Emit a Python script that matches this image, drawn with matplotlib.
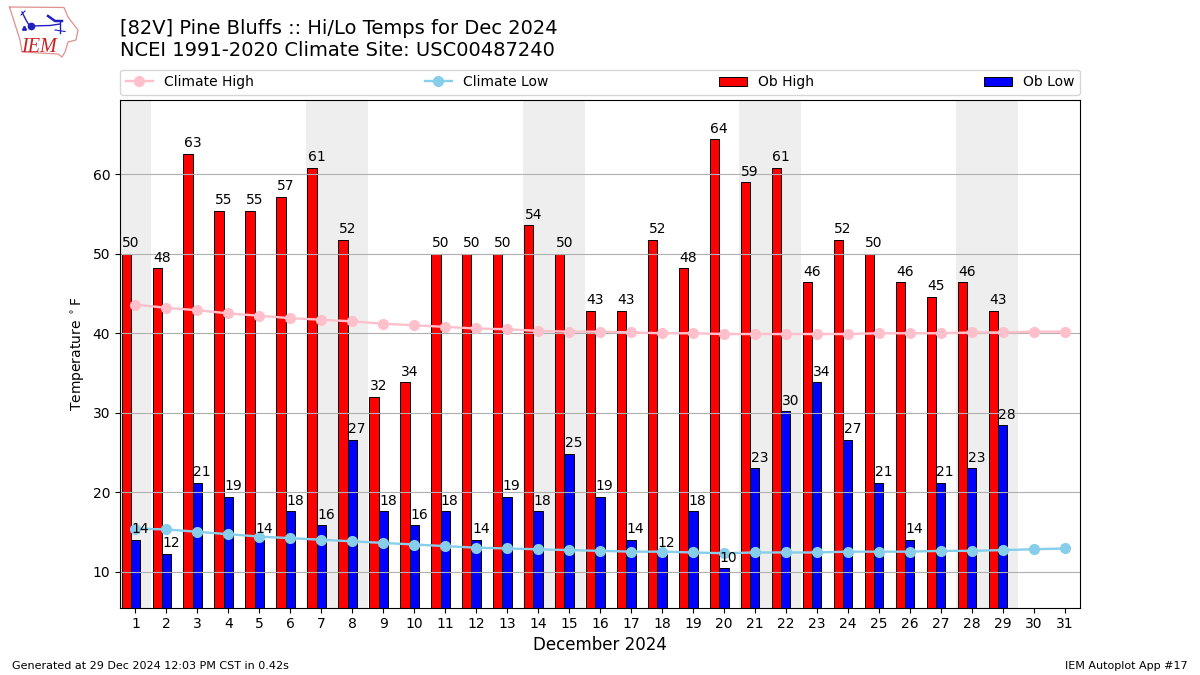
import matplotlib
matplotlib.use('Agg')
import matplotlib.pyplot as plt
import numpy as np

# Observed values, day of month
days = list(range(1, 32))
ob_days = list(range(1, 30))
ob_high = [50, 48.2, 62.6, 55.4, 55.4, 57.2, 60.8, 51.8, 32, 33.8, 50, 50, 50, 53.6, 50,
           42.8, 42.8, 51.8, 48.2, 64.4, 59, 60.8, 46.4, 51.8, 50, 46.4, 44.6, 46.4, 42.8]
ob_low = [14, 12.2, 21.2, 19.4, 14, 17.6, 15.8, 26.6, 17.6, 15.8, 17.6, 14, 19.4, 17.6, 24.8,
          19.4, 14, 12.2, 17.6, 10.4, 23, 30.2, 33.8, 26.6, 21.2, 14, 21.2, 23, 28.4]

# Climatology
climo_high = [43.6, 43.2, 42.9, 42.5, 42.2, 41.9, 41.7, 41.5, 41.2, 41.0, 40.8, 40.6, 40.5, 40.3, 40.2, 40.2,
              40.1, 40.0, 40.0, 39.9, 39.9, 39.9, 39.9, 39.9, 40.0, 40.0, 40.0, 40.1, 40.1, 40.2, 40.2]
climo_low = [15.4, 15.3, 15.0, 14.7, 14.4, 14.2, 14.0, 13.8, 13.6, 13.4, 13.2, 13.0, 12.9, 12.8, 12.7, 12.6,
             12.5, 12.5, 12.4, 12.3, 12.4, 12.4, 12.4, 12.5, 12.5, 12.5, 12.6, 12.6, 12.7, 12.8, 12.9]

weekends = [(0.5, 1.5), (6.5, 8.5), (13.5, 15.5), (20.5, 22.5), (27.5, 29.5)]

title = "[82V] Pine Bluffs :: Hi/Lo Temps for Dec 2024\nNCEI 1991-2020 Climate Site: USC00487240"

W, H = 1200, 675
BAR = 0.3


def drawLogo(fig):
    # small axes in reference pixels for the IEM logo
    ax = fig.add_axes([0, 1 - 70 / H, 130 / W, 70 / H])
    ax.set_xlim(0, 130)
    ax.set_ylim(70, 0)
    ax.axis('off')
    ox = [9.5, 64, 68, 78, 76, 68, 65, 62, 58, 22, 20, 9.5]
    oy = [7, 7.5, 17, 30, 40, 42, 52, 57, 54, 52, 40, 7]
    ax.plot(ox, oy, color='#e09090', lw=0.9)
    blue = '#2020c0'
    ax.plot([31, 50, 60], [26, 25.5, 24], color=blue, lw=1.0)
    ax.plot([60, 60], [22, 33], color=blue, lw=1.0)
    ax.plot([22, 26, 29], [12, 20, 25], color=blue, lw=1.0)
    ax.plot([21, 25], [15, 11], color=blue, lw=0.8)
    ax.plot([48, 55, 62], [16, 21, 21], color=blue, lw=1.8)
    ax.plot([55, 65], [30, 31.5], color=blue, lw=0.8)
    ax.plot([31], [26], 'o', color=blue, ms=4.5)
    ax.plot([23, 25, 24], [29, 29, 27], 's', color=blue, ms=1)
    ax.text(21, 52, "IEM", color='#cc2222', fontsize=14.5, style='italic', family='Liberation Serif')


fig = plt.figure(figsize=(W / 100, H / 100), dpi=100)
ax = fig.add_axes([0.1, 0.1, 0.8, 507.6 / H])

for start, end in weekends:
    ax.axvspan(start, end, color='#EEEEEE', lw=0)

ax.plot(days, climo_high, color='pink', marker='o', ms=7, lw=1.7, label='Climate High', zorder=3)
ax.plot(days, climo_low, color='skyblue', marker='o', ms=7, lw=1.7, label='Climate Low', zorder=3)

x = np.array(ob_days)
ax.bar(x - BAR, ob_high, width=BAR, color='r', edgecolor='k', lw=0.7, label='Ob High')
ax.bar(x, ob_low, width=BAR, color='b', edgecolor='k', lw=0.7, label='Ob Low')

for day, hi, lo in zip(ob_days, ob_high, ob_low):
    ax.text(day - BAR / 2, hi + 0.45, f"{hi:.0f}", ha='center', va='bottom', fontsize=10, zorder=5)
    ax.text(day + BAR / 2, lo + 0.45, f"{lo:.0f}", ha='center', va='bottom', fontsize=10, zorder=5)

ax.set_xlim(0.5, 31.5)
ax.set_ylim(5.47, 69.38)
ax.set_xticks(days)
ax.set_yticks([10, 20, 30, 40, 50, 60])
ax.grid(True, axis='y', color='#b0b0b0', lw=0.8)
ax.set_xlabel('December 2024', fontsize=12, labelpad=3.5)
ax.set_ylabel('Temperature $^\\circ$F')
ax.legend(loc='lower left', bbox_to_anchor=(0, 1.01, 1, 0.05), ncol=4, mode='expand',
          borderaxespad=0, fontsize=10)

fig.text(0.1, 1 - 40 / H, title, fontsize=14, va='center')
fig.text(12 / W, 1 - 666 / H, 'Generated at 29 Dec 2024 12:03 PM CST in 0.42s', fontsize=8, va='center')
fig.text(1188 / W, 1 - 666 / H, 'IEM Autoplot App #17', fontsize=8, va='center', ha='right')

drawLogo(fig)

fig.savefig('out.png', dpi=100)
